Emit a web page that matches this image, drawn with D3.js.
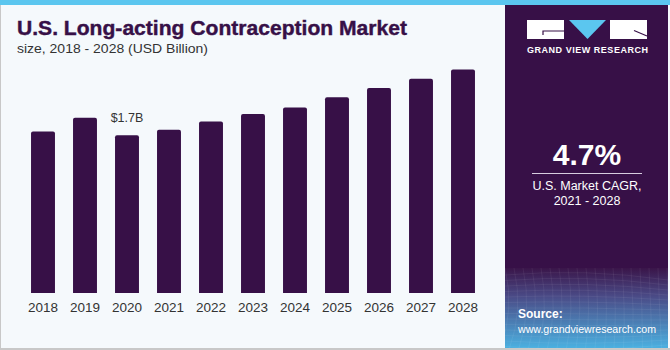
<!DOCTYPE html>
<html><head><meta charset="utf-8">
<script src="https://cdn.jsdelivr.net/npm/d3@7"></script>
<style>html,body{margin:0;padding:0;background:#fff;}svg{display:block;font-family:"Liberation Sans",Arial,sans-serif;}</style>
</head><body>
<svg id="c" width="670" height="350"></svg>
<script>
const years = ["2018","2019","2020","2021","2022","2023","2024","2025","2026","2027","2028"];
const values = [1.74,1.89,1.70,1.76,1.85,1.93,2.00,2.11,2.21,2.31,2.41];
const labelYear = "2020";
const labelText = "$1.7B";
const titleText = "U.S. Long-acting Contraception Market";
const subtitleText = "size, 2018 - 2028 (USD Billion)";
const cagrValue = "4.7%";
const cagrLines = ["U.S. Market CAGR,", "2021 - 2028"];

const svg = d3.select("#c");
const purple = "#371047";
const defs = svg.append("defs");
const g1 = defs.append("linearGradient").attr("id","src").attr("x1",0).attr("y1",0).attr("x2",0).attr("y2",1);
g1.append("stop").attr("offset","0%").attr("stop-color","#3a1549");
g1.append("stop").attr("offset","35%").attr("stop-color","#4a4a86");
g1.append("stop").attr("offset","100%").attr("stop-color","#4bb0e0");

// backgrounds
svg.append("rect").attr("x",0).attr("y",0).attr("width",670).attr("height",350).attr("fill","#c8c8c8");
svg.append("rect").attr("x",1).attr("y",0).attr("width",504).attr("height",348).attr("fill","#f5f9fc");
svg.append("rect").attr("x",505).attr("y",0).attr("width",163).attr("height",348).attr("fill",purple);
svg.append("rect").attr("x",668).attr("y",0).attr("width",2).attr("height",348).attr("fill","#f5f9fc");
svg.append("rect").attr("x",505).attr("y",268).attr("width",163).attr("height",80).attr("fill","url(#src)");
// faint grid texture in source box
const tex = svg.append("g").attr("stroke","#ffffff").attr("stroke-opacity",0.1).attr("stroke-width",0.6).attr("fill","none");
for (let i=0;i<14;i++){
  tex.append("path").attr("d",`M505,${275+i*5.5} Q585,${268+i*6.5} 668,${280+i*5}`);
}
for (let i=0;i<20;i++){
  tex.append("path").attr("d",`M${505+i*9},268 Q${515+i*8.5},310 ${500+i*9.5},348`);
}
svg.append("rect").attr("x",0).attr("y",0).attr("width",670).attr("height",5).attr("fill","#5bc6ef");

// title
svg.append("text").attr("x",17).attr("y",35).attr("fill",purple).attr("font-size",20).attr("font-weight","bold")
  .attr("textLength",390).attr("lengthAdjust","spacingAndGlyphs").attr("stroke",purple).attr("stroke-width",0.4).text(titleText);
svg.append("text").attr("x",17).attr("y",53).attr("fill","#333").attr("font-size",13.5)
  .attr("textLength",191).attr("lengthAdjust","spacingAndGlyphs").text(subtitleText);

// scales
const x = d3.scaleBand().domain(years).range([22,484]).paddingInner(0.43).paddingOuter(0.215);
const y = d3.scaleLinear().domain([0,2.6]).range([293,51.8]);

svg.append("g").selectAll("path").data(years).join("path")
  .attr("fill",purple)
  .attr("d",(d,i)=>{
    const x0=x(d), w=x.bandwidth(), y0=y(values[i]), y1=y(0), r=2;
    return `M${x0},${y1}V${y0+r}Q${x0},${y0} ${x0+r},${y0}H${x0+w-r}Q${x0+w},${y0} ${x0+w},${y0+r}V${y1}Z`;
  });

// axis
const ax = svg.append("g").attr("transform","translate(0,293)").call(d3.axisBottom(x).tickSize(0).tickPadding(9));
ax.select(".domain").remove();
ax.selectAll("text").attr("font-size",13.5).attr("fill","#333").attr("font-family","Liberation Sans, Arial, sans-serif");

// value label
const li = years.indexOf(labelYear);
svg.append("text").attr("x",x(labelYear)+x.bandwidth()/2).attr("y",y(values[li])-13.5)
  .attr("text-anchor","middle").attr("font-size",12.5).attr("fill","#333").text(labelText);

// logo
const logo = svg.append("g");
logo.append("rect").attr("x",527).attr("y",20).attr("width",37).attr("height",19).attr("fill","#fff");
logo.append("path").attr("d","M543,35V31H564").attr("stroke",purple).attr("stroke-width",1.2).attr("fill","none");
logo.append("path").attr("d","M569,20H606L587.5,39Z").attr("fill","#5bc6ef");
logo.append("rect").attr("x",610).attr("y",20).attr("width",37).attr("height",19).attr("fill","#fff");
logo.append("path").attr("d","M634,30.5L647,36").attr("stroke",purple).attr("stroke-width",1.2).attr("fill","none");
svg.append("text").attr("x",527).attr("y",53).attr("fill","#fff")
  .attr("font-size",9).attr("font-weight","bold").attr("textLength",121).attr("lengthAdjust","spacing").text("GRAND VIEW RESEARCH");

// CAGR
svg.append("text").attr("x",587).attr("y",165).attr("text-anchor","middle").attr("fill","#fff")
  .attr("font-size",30).attr("font-weight","bold").text(cagrValue);
svg.append("line").attr("x1",532).attr("x2",642).attr("y1",173.5).attr("y2",173.5).attr("stroke","#d8cde0").attr("stroke-width",1);
cagrLines.forEach((t,i)=>{
  svg.append("text").attr("x",587).attr("y",190+i*14.5).attr("text-anchor","middle").attr("fill","#fff")
    .attr("font-size",12.5).text(t);
});

// source
svg.append("text").attr("x",518).attr("y",318).attr("fill","#fff").attr("font-size",12).attr("font-weight","bold").text("Source:");
svg.append("text").attr("x",518).attr("y",332.5).attr("fill","#fff").attr("font-size",11)
  .attr("textLength",138).attr("lengthAdjust","spacingAndGlyphs").text("www.grandviewresearch.com");
</script>
</body></html>
